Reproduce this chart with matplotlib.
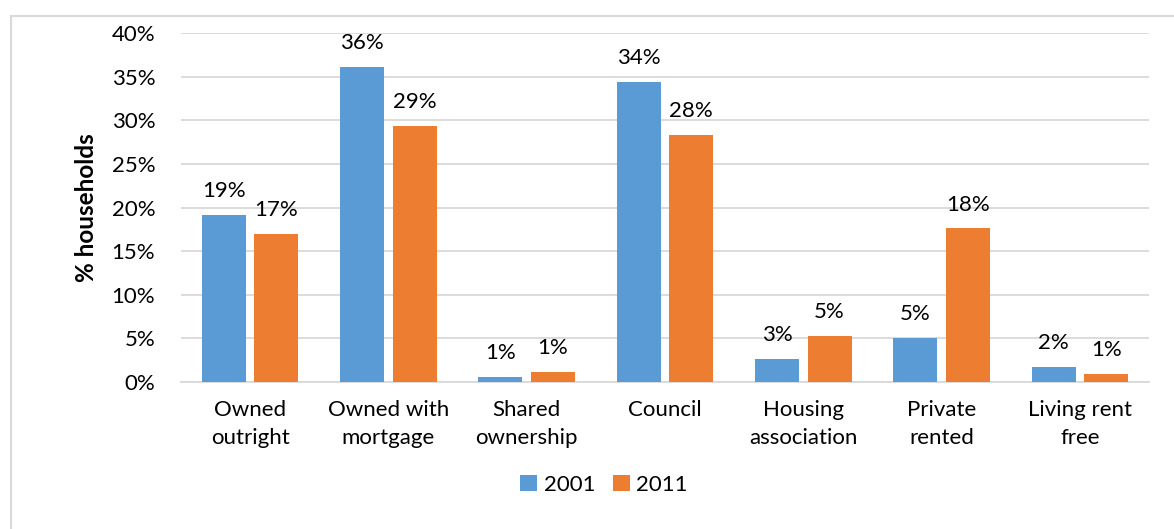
import numpy as np
import matplotlib

matplotlib.use("Agg")
import matplotlib.pyplot as plt
from matplotlib.patches import Rectangle

plt.rcParams["font.family"] = ["Lato", "DejaVu Sans"]

categorias = ["Owned\noutright", "Owned with\nmortgage", "Shared\nownership", "Council",
              "Housing\nassociation", "Private\nrented", "Living rent\nfree"]
v2001 = [19.1, 36.1, 0.6, 34.4, 2.6, 5.1, 1.7]
v2011 = [17.0, 29.3, 1.2, 28.3, 5.3, 17.6, 0.9]
series = ["2001", "2011"]
cores = ["#5B9BD5", "#ED7D31"]

W, H = 1174, 529
fs = 16
fig = plt.figure(figsize=(W / 100, H / 100), dpi=100)
ax = fig.add_axes([181 / W, 1 - 382 / H, (1149 - 181) / W, (382 - 33) / H])

# moldura externa
fig.patches.append(Rectangle((11 / W, -0.1), 1.1, 1 - 16.5 / H + 0.1, transform=fig.transFigure,
                             fill=False, edgecolor="#D9D9D9", linewidth=1.5))

x = np.arange(len(categorias))
larg = 0.318
desl = 0.19
for i, (vals, nome, cor) in enumerate(zip([v2001, v2011], series, cores)):
    pos = x + (i * 2 - 1) * desl
    barras = ax.bar(pos, vals, width=larg, color=cor, label=nome, zorder=3)
    for b, v in zip(barras, vals):
        ax.annotate(f"{round(v):.0f}%", (b.get_x() + b.get_width() / 2, v),
                    xytext=(0, 10), textcoords="offset points",
                    ha="center", va="bottom", fontsize=fs, color="#000000")

ax.set_xlim(-0.5, len(categorias) - 0.5)
ax.set_ylim(0, 40)
ax.set_yticks(range(0, 41, 5))
ax.set_yticklabels([f"{t}%" for t in range(0, 41, 5)], fontsize=fs)
ax.set_xticks(x)
ax.set_xticklabels(categorias, fontsize=fs, linespacing=1.5)
ax.tick_params(length=0, pad=13)
ax.tick_params(axis="y", pad=18.5)
ax.grid(axis="y", color="#D9D9D9", linewidth=1.3, zorder=0)
for s in ["top", "right", "left"]:
    ax.spines[s].set_visible(False)
ax.spines["bottom"].set_color("#D9D9D9")
ax.spines["bottom"].set_linewidth(1.3)
ax.set_ylabel("% households", fontsize=17.5, fontweight="bold", labelpad=10)

fig.legend(loc="center", bbox_to_anchor=(604 / W, 1 - 485 / H), ncol=2, frameon=False,
           fontsize=fs, handlelength=0.75, handleheight=0.75, handletextpad=0.3,
           columnspacing=0.8)

fig.savefig("out.png", dpi=100)
